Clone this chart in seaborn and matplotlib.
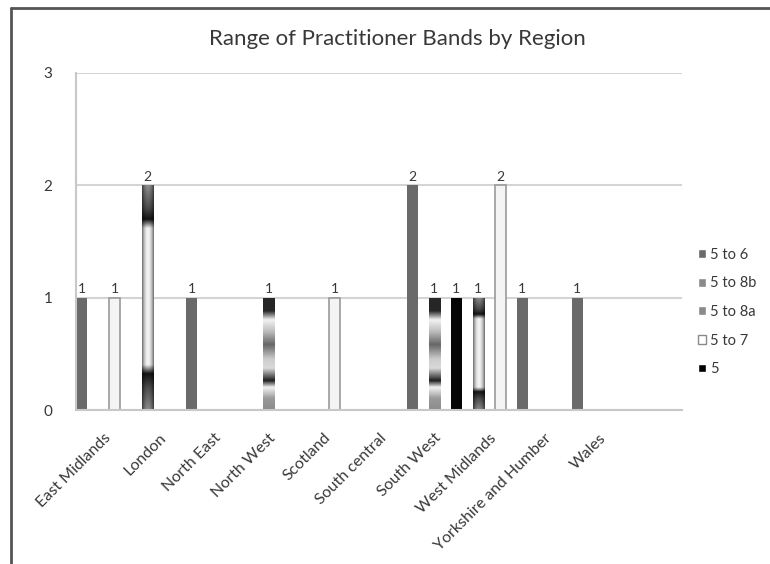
import numpy as np
import pandas as pd
import matplotlib
matplotlib.use("Agg")
import matplotlib.pyplot as plt
import seaborn as sns
from matplotlib.patches import Patch
from matplotlib.lines import Line2D

regions = ["East Midlands", "London", "North East", "North West", "Scotland",
           "South central", "South West", "West Midlands", "Yorkshire and Humber", "Wales"]
bands = ["5 to 6", "5 to 8b", "5 to 8a", "5 to 7", "5"]

band_5_to_6 = [1, 0, 1, 0, 0, 0, 2, 0, 1, 1]
band_5_to_8b = [0, 2, 0, 0, 0, 0, 0, 1, 0, 0]
band_5_to_8a = [0, 0, 0, 1, 0, 0, 1, 0, 0, 0]
band_5_to_7 = [1, 0, 0, 0, 1, 0, 0, 2, 0, 0]
band_5 = [0, 0, 0, 0, 0, 0, 1, 0, 0, 0]

counts = [band_5_to_6, band_5_to_8b, band_5_to_8a, band_5_to_7, band_5]
rows = []
for band, vals in zip(bands, counts):
    for region, v in zip(regions, vals):
        if v > 0:
            rows.append({"region": region, "band": band, "count": v})
df = pd.DataFrame(rows)

colors = {"5 to 6": "#6a6a6a", "5 to 8b": "#8a8a8a", "5 to 8a": "#8c8c8c",
          "5 to 7": "#f4f4f4", "5": "#050505"}

sns.set_theme(style="white")
plt.rcParams["font.family"] = ["Lato", "DejaVu Sans"]

fig = plt.figure(figsize=(7.7, 5.64), dpi=100)
ax = fig.add_axes([76 / 770, 1 - 410 / 564, 606 / 770, 337 / 564])

sns.barplot(data=df, x="region", y="count", hue="band", order=regions,
            hue_order=bands, palette=colors, width=1.0, dodge=True,
            saturation=1, errorbar=None, legend=False, ax=ax, linewidth=0)


def profile(knots, n=200):
    t = np.linspace(0, 1, n)
    xs, ys = zip(*knots)
    return np.interp(t, xs, ys)


# gradient fills roughly like the original (Excel preset gradients)
v8b = profile([(0, 0.55), (0.1, 0.3), (0.15, 0.08), (0.19, 0.95), (0.8, 0.95),
               (0.84, 0.08), (0.9, 0.3), (1.0, 0.55)])
s = np.linspace(-1, 1, 30)
grad_8b = v8b[:, None] * (1 - 0.55 * s[None, :] ** 2)

v8a = profile([(0, 0.15), (0.12, 0.15), (0.2, 0.95), (0.3, 0.75), (0.42, 0.4),
               (0.55, 0.8), (0.63, 0.85), (0.74, 0.12), (0.8, 0.95), (0.9, 0.6),
               (1.0, 0.55)])
grad_8a = np.repeat(v8a[:, None], 30, axis=1)

text_col = "#383838"

for band, cont in zip(bands, ax.containers):
    for bar in cont:
        if band == "5 to 7":
            bar.set_edgecolor("#9a9a9a")
            bar.set_linewidth(1.2)
        if band in ("5 to 8b", "5 to 8a"):
            x, y = bar.get_x(), bar.get_y()
            w, h = bar.get_width(), bar.get_height()
            bar.set_facecolor("none")
            img = grad_8b if band == "5 to 8b" else grad_8a
            im = ax.imshow(img, extent=[x, x + w, y, y + h], aspect="auto",
                           cmap="gray", vmin=0, vmax=1, zorder=2,
                           interpolation="bilinear")
            im.set_clip_path(bar)
    ax.bar_label(cont, fmt="%d", padding=2, fontsize=10, color=text_col)

ax.set_xlim(-0.5, len(regions) + 0.5)
ax.set_ylim(0, 3)
ax.set_yticks([0, 1, 2, 3])
ax.yaxis.grid(True, color="#d4d4d4", linewidth=1.5)
ax.set_axisbelow(True)
ax.set_xlabel("")
ax.set_ylabel("")
ax.set_xticks(range(len(regions)))
ax.set_xticklabels(regions, rotation=45, ha="right", rotation_mode="anchor",
                   fontsize=11.5, color=text_col)
ax.tick_params(axis="y", labelsize=11, labelcolor=text_col, pad=17, length=0)
ax.tick_params(axis="x", pad=15, length=0)
for side in ("top", "right"):
    ax.spines[side].set_visible(False)
for side in ("left", "bottom"):
    ax.spines[side].set_color("#c8c8c8")
    ax.spines[side].set_linewidth(1.5)

fig.text(397 / 770, 1 - 39 / 564, "Range of Practitioner Bands by Region",
         ha="center", va="center", fontsize=16, color=text_col)

handles = [Patch(facecolor=colors["5 to 6"]),
           Patch(facecolor="#8a8a8a"),
           Patch(facecolor="#8a8a8a"),
           Patch(facecolor="white", edgecolor="#8a8a8a"),
           Patch(facecolor="black")]
fig.legend(handles, bands, loc="center left", bbox_to_anchor=(685 / 770, 1 - 312 / 564),
           frameon=False, fontsize=10.5, handlelength=0.55, handleheight=0.55,
           handletextpad=0.25, labelspacing=1.0, labelcolor=text_col)

fig.add_artist(Line2D([11 / 770, 11 / 770], [0, 1 - 8 / 564], color="#555555",
                      lw=2, transform=fig.transFigure))
fig.add_artist(Line2D([11 / 770, 1], [1 - 8 / 564, 1 - 8 / 564], color="#555555",
                      lw=2, transform=fig.transFigure))

fig.savefig("out.png", dpi=100)
